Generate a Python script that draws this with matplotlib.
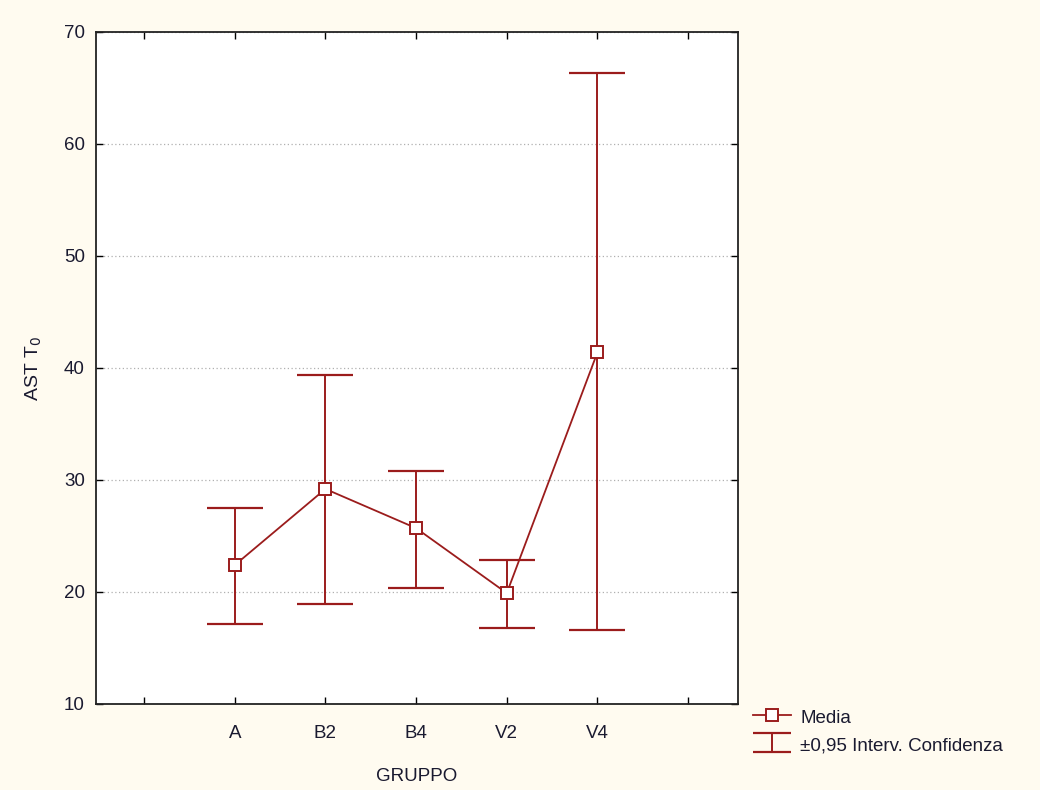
import matplotlib
matplotlib.use('Agg')
import matplotlib.pyplot as plt
from matplotlib.lines import Line2D

plt.rcParams['font.family'] = ['Liberation Sans', 'DejaVu Sans']

groups = ['A', 'B2', 'B4', 'V2', 'V4']
media = [22.4, 29.2, 25.7, 19.9, 41.4]
ci_low = [17.1, 18.9, 20.4, 16.8, 16.6]
ci_high = [27.5, 39.4, 30.8, 22.9, 66.3]

red = '#9b1c1c'
txt = '#1a1a30'

fig = plt.figure(figsize=(10.4, 7.9), dpi=100, facecolor='#fffbf0')
ax = fig.add_axes([96 / 1040, 1 - 704 / 790, 642 / 1040, 672 / 790])
ax.set_facecolor('white')

x = list(range(1, len(groups) + 1))
err_lo = [m - lo for m, lo in zip(media, ci_low)]
err_hi = [hi - m for m, hi in zip(media, ci_high)]

ax.errorbar(x, media, yerr=[err_lo, err_hi], fmt='none', ecolor=red,
            elinewidth=1.4, capsize=20, capthick=1.6, zorder=2)
ax.plot(x, media, color=red, lw=1.3, marker='s', markersize=9,
        markerfacecolor='white', markeredgecolor=red, markeredgewidth=1.4,
        zorder=3)

# smaller I-beam just for the legend entry
eb_leg = ax.errorbar([float('nan')], [float('nan')], yerr=[1], fmt='none',
                     ecolor=red, elinewidth=1.4, capsize=14, capthick=1.6)

ax.set_xlim(-0.53, 6.55)
ax.set_ylim(10, 70)
ax.set_xticks(range(0, 7))
ax.set_xticklabels([''] + groups + [''])
ax.set_yticks(range(10, 71, 10))
ax.tick_params(direction='in', top=True, right=True, length=5, width=1,
               labelsize=13.5, labelcolor=txt, pad=15)
ax.tick_params(axis='y', pad=8)
ax.yaxis.grid(True, linestyle=(0, (1, 2)), color='#b0b0b0', lw=0.9)
for s in ax.spines.values():
    s.set_linewidth(1.3)
    s.set_color('#222222')

ax.set_xlabel('GRUPPO', fontsize=13.5, color=txt, labelpad=19)
ax.set_ylabel('AST T$_0$', fontsize=14, color=txt, labelpad=14)

h1 = Line2D([], [], color=red, lw=1.3, marker='s', markersize=8,
            markerfacecolor='white', markeredgecolor=red, markeredgewidth=1.4)
fig.legend([h1, eb_leg], ['Media', '±0,95 Interv. Confidenza'],
           loc='upper left', bbox_to_anchor=(742 / 1040, 1 - 695 / 790),
           frameon=False, fontsize=13.5, labelcolor=txt, handlelength=2.0,
           handletextpad=0.5, borderpad=0.1, labelspacing=0.4,
           handleheight=1.3)

fig.savefig('out.png', dpi=100, facecolor=fig.get_facecolor())
